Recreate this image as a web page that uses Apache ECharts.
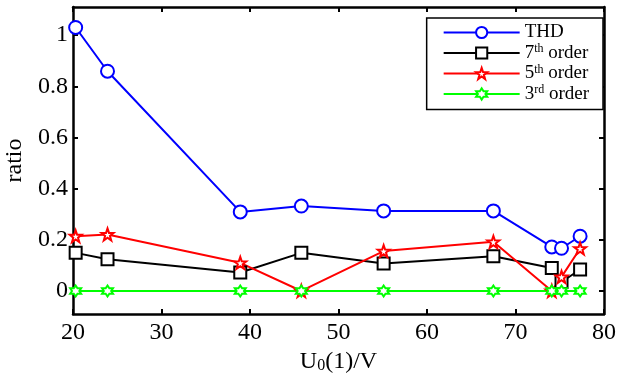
<!DOCTYPE html>
<html>
<head>
<meta charset="utf-8">
<script src="https://cdn.jsdelivr.net/npm/echarts@6/dist/echarts.min.js"></script>
<style>
  html, body { margin: 0; padding: 0; background: #fff; }
  #chart { width: 623px; height: 373px; }
</style>
</head>
<body>
<div id="chart"></div>
<script>
  // 横轴：电压 U0(1)/V
  var voltage = [20.3, 23.9, 38.9, 45.8, 55.1, 67.5, 74.1, 75.2, 77.3];
  // 各系列比值
  var thd = [1.03, 0.859, 0.309, 0.332, 0.313, 0.313, 0.172, 0.167, 0.214];
  var order7 = [0.149, 0.124, 0.072, 0.149, 0.107, 0.136, 0.090, 0.035, 0.084];
  var order5 = [0.214, 0.221, 0.110, 0.0, 0.156, 0.192, 0.0, 0.055, 0.166];
  var order3 = [0, 0, 0, 0, 0, 0, 0, 0, 0];
  var yTicks = [0, 0.2, 0.4, 0.6, 0.8, 1];

  var font = '"Liberation Serif", "Times New Roman", serif';
  var pentagram = 'path://M0,-10 L2.35,-3.24 L9.51,-3.09 L3.80,1.24 L5.88,8.09 L0,4 L-5.88,8.09 L-3.80,1.24 L-9.51,-3.09 L-2.35,-3.24 Z';
  var hexagram = 'path://M0,-10 L2.887,-5 L8.66,-5 L5.77,0 L8.66,5 L2.887,5 L0,10 L-2.887,5 L-8.66,5 L-5.77,0 L-8.66,-5 L-2.887,-5 Z';

  function pairs (ys) {
    var out = [];
    for (var i = 0; i < voltage.length; i++) {
      out.push([voltage[i], ys[i]]);
    }
    return out;
  }

  function makeSeries (name, ys, color, symbol, size) {
    return {
      name: name,
      type: 'line',
      xAxisIndex: 0,
      yAxisIndex: 0,
      data: pairs(ys),
      symbol: symbol,
      symbolSize: size,
      showAllSymbol: true,
      lineStyle: { color: color, width: 2 },
      itemStyle: { color: '#fff', borderColor: color, borderWidth: 2 },
      emphasis: { disabled: true },
      animation: false
    };
  }

  var names = ['THD', '7th order', '5th order', '3rd order'];
  var rich = {
    n: { fontFamily: font, fontSize: 19, color: '#000', lineHeight: 20 },
    sup: { fontFamily: font, fontSize: 12, color: '#000', lineHeight: 12, verticalAlign: 'top' }
  };

  var axisLineStyle = { color: '#000', width: 2.5 };
  var tickStyle = { color: '#000', width: 2 };

  var option = {
    backgroundColor: '#fff',
    grid: { left: 73, right: 19, top: 7, bottom: 59, outerBoundsMode: 'none' },
    legend: {
      orient: 'vertical',
      right: 20,
      top: 18,
      padding: [5, 14, 6, 16],
      itemWidth: 76,
      itemHeight: 14,
      itemGap: 1,
      backgroundColor: '#fff',
      borderColor: '#000',
      borderWidth: 1.5,
      borderRadius: 0,
      data: names,
      formatter: function (name) {
        if (name === 'THD') return '{n|THD}';
        var m = name.match(/^(\d)(\w\w) order$/);
        return '{n|' + m[1] + '}{sup|' + m[2] + '}{n| order}';
      },
      textStyle: { rich: rich }
    },
    xAxis: [{
      type: 'value',
      min: 20,
      max: 80,
      interval: 10,
      name: 'U{sub|0}(1)/V',
      nameLocation: 'middle',
      nameGap: 16,
      nameTextStyle: {
        fontFamily: font, fontSize: 24, color: '#000',
        rich: {
          sub: { fontFamily: font, fontSize: 16, color: '#000', verticalAlign: 'bottom', lineHeight: 24 }
        }
      },
      axisLine: { onZero: false, lineStyle: axisLineStyle },
      axisTick: { inside: true, length: 5, lineStyle: tickStyle },
      axisLabel: { fontFamily: font, fontSize: 24, color: '#000', margin: 7 },
      splitLine: { show: false }
    }, {
      type: 'value',
      position: 'top',
      min: 20,
      max: 80,
      interval: 10,
      axisLine: { show: true, onZero: false, lineStyle: axisLineStyle },
      axisTick: { show: true, inside: true, length: 5, lineStyle: tickStyle },
      axisLabel: { show: false },
      splitLine: { show: false }
    }],
    yAxis: [{
      type: 'value',
      min: -0.09,
      max: 1.11,
      name: 'ratio',
      nameLocation: 'middle',
      nameGap: 40,
      nameTextStyle: { fontFamily: font, fontSize: 24, color: '#000' },
      axisLine: { show: true, onZero: false, lineStyle: axisLineStyle },
      axisTick: { show: true, inside: true, length: 5, lineStyle: tickStyle, customValues: yTicks },
      axisLabel: { fontFamily: font, fontSize: 24, color: '#000', margin: 5, customValues: yTicks },
      splitLine: { show: false }
    }, {
      type: 'value',
      position: 'right',
      min: -0.09,
      max: 1.11,
      axisLine: { show: true, onZero: false, lineStyle: axisLineStyle },
      axisTick: { show: true, inside: true, length: 5, lineStyle: tickStyle, customValues: yTicks },
      axisLabel: { show: false, customValues: yTicks },
      splitLine: { show: false }
    }],
    series: [
      makeSeries('THD', thd, '#0000ff', 'circle', 13),
      makeSeries('7th order', order7, '#000000', 'rect', 12),
      makeSeries('5th order', order5, '#ff0000', pentagram, 12),
      makeSeries('3rd order', order3, '#00ff00', hexagram, 11)
    ]
  };

  var chart = echarts.init(document.getElementById('chart'));
  chart.setOption(option);
</script>
</body>
</html>
